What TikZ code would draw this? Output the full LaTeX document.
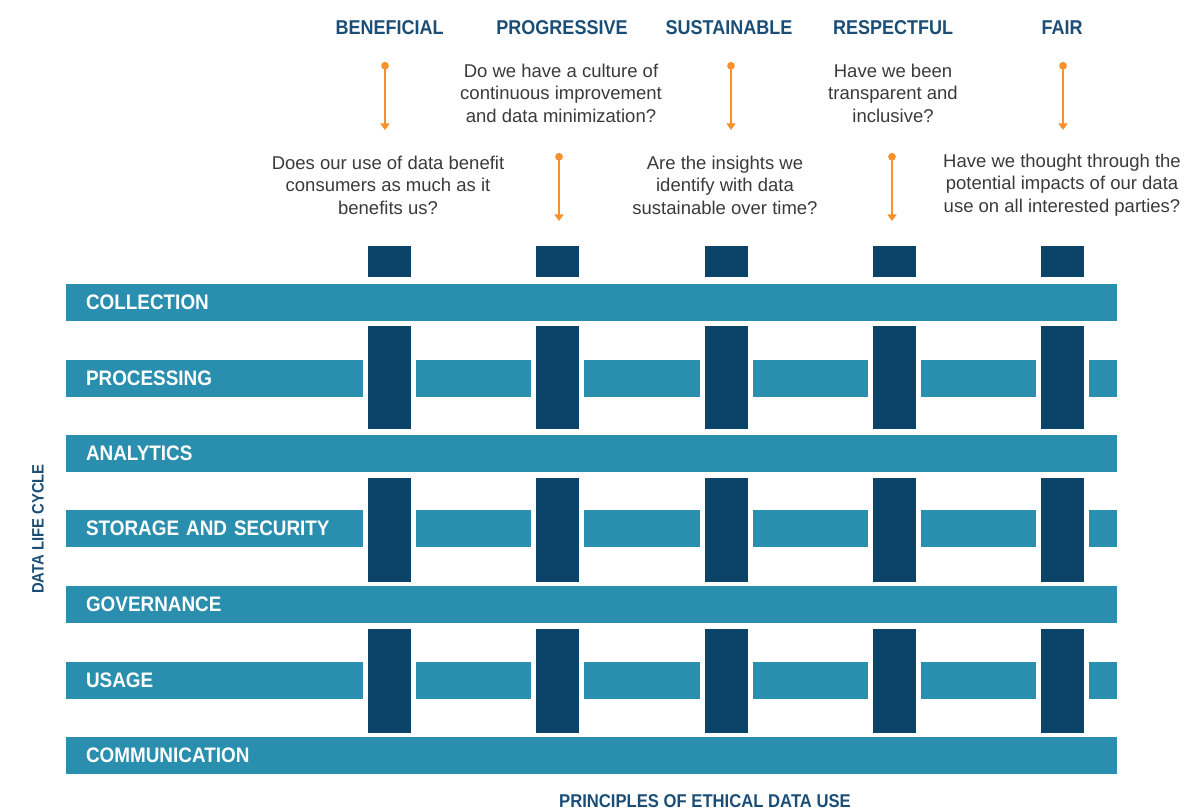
\documentclass[tikz,border=0pt]{standalone}
\usepackage{fontspec}
\setmainfont{Liberation Sans}
\newfontfamily\condfont[FakeStretch=0.9]{Liberation Sans}
\usetikzlibrary{arrows.meta}

\definecolor{azulclaro}{HTML}{2A8EAE}
\definecolor{azuloscuro}{HTML}{0B4468}
\definecolor{azultitulo}{HTML}{1B4E76}
\definecolor{gristexto}{HTML}{3A3A3A}
\definecolor{naranja}{HTML}{F6912E}

\begin{document}
\begin{tikzpicture}[x=1pt, y=-1pt,
    fila/.style={fill=azulclaro, text=white, minimum height=37pt, inner ysep=0pt, inner xsep=20pt, text width=1011pt, align=left, font=\condfont\bfseries\fontsize{21}{21}\selectfont},
    barra/.style={fill=azuloscuro, draw=white, line width=5pt, minimum width=48pt, inner sep=0pt},
    titulo/.style={text=azultitulo, font=\condfont\bfseries\fontsize{20}{20}\selectfont},
    pregunta/.style={text=gristexto, align=center, font=\fontsize{18.5}{22.5}\selectfont},
    flecha/.style={draw=naranja, line width=2.6pt, {Circle[length=7.5pt]}-{Triangle[length=6.5pt,width=9pt]}}]
            \useasboundingbox (0,0) rectangle (1190,810);

            % Filas partidas
            \node[fila] (proc) at (591.5,378) {PROCESSING};
            \node[fila] (almac) at (591.5,528.5) {STORAGE AND SECURITY};
            \node[fila] (uso) at (591.5,680) {USAGE};

            % Barras
            \node[barra, minimum height=36pt] (c1) at (389.5,261.5) {};
            \node[barra, minimum height=36pt] (c2) at (557.75,261.5) {};
            \node[barra, minimum height=36pt] (c3) at (726,261.5) {};
            \node[barra, minimum height=36pt] (c4) at (894.25,261.5) {};
            \node[barra, minimum height=36pt] (c5) at (1062.5,261.5) {};
            \node[barra, minimum height=108pt] (b11) at (389.5,377.5) {};
            \node[barra, minimum height=108pt] (b12) at (557.75,377.5) {};
            \node[barra, minimum height=108pt] (b13) at (726,377.5) {};
            \node[barra, minimum height=108pt] (b14) at (894.25,377.5) {};
            \node[barra, minimum height=108pt] (b15) at (1062.5,377.5) {};
            \node[barra, minimum height=109pt] (b21) at (389.5,530) {};
            \node[barra, minimum height=109pt] (b22) at (557.75,530) {};
            \node[barra, minimum height=109pt] (b23) at (726,530) {};
            \node[barra, minimum height=109pt] (b24) at (894.25,530) {};
            \node[barra, minimum height=109pt] (b25) at (1062.5,530) {};
            \node[barra, minimum height=109pt] (b31) at (389.5,681) {};
            \node[barra, minimum height=109pt] (b32) at (557.75,681) {};
            \node[barra, minimum height=109pt] (b33) at (726,681) {};
            \node[barra, minimum height=109pt] (b34) at (894.25,681) {};
            \node[barra, minimum height=109pt] (b35) at (1062.5,681) {};

            % Filas enteras
            \node[fila] (recol) at (591.5,302.5) {COLLECTION};
            \node[fila] (anal) at (591.5,453.5) {ANALYTICS};
            \node[fila] (gob) at (591.5,604.5) {GOVERNANCE};
            \node[fila] (comu) at (591.5,755.5) {COMMUNICATION};

            % Principios
            \node[titulo] (benef) at (389.5,28) {BENEFICIAL};
            \node[titulo] (progr) at (562,28) {PROGRESSIVE};
            \node[titulo] (soste) at (729,28) {SUSTAINABLE};
            \node[titulo] (respe) at (893,28) {RESPECTFUL};
            \node[titulo] (justo) at (1062,28) {FAIR};

            % Preguntas
            \node[pregunta] (p1) at (388,185) {Does our use of data benefit\\consumers as much as it\\benefits us?};
            \node[pregunta] (p2) at (561,93) {Do we have a culture of\\continuous improvement\\and data minimization?};
            \node[pregunta] (p3) at (725,185) {Are the insights we\\identify with data\\sustainable over time?};
            \node[pregunta] (p4) at (893,93) {Have we been\\transparent and\\inclusive?};
            \node[pregunta] (p5) at (1062,185) {Have we thought through the\\potential impacts of our data\\use on all interested parties?};

            % Flechas
            \coordinate (f1a) at (385,62);   \coordinate (f1b) at (385,130);
            \coordinate (f2a) at (559,153);  \coordinate (f2b) at (559,221);
            \coordinate (f3a) at (731,62);   \coordinate (f3b) at (731,130);
            \coordinate (f4a) at (892,153);  \coordinate (f4b) at (892,221);
            \coordinate (f5a) at (1063,62);  \coordinate (f5b) at (1063,130);
            \draw[flecha] (f1a) -- (f1b);
            \draw[flecha] (f2a) -- (f2b);
            \draw[flecha] (f3a) -- (f3b);
            \draw[flecha] (f4a) -- (f4b);
            \draw[flecha] (f5a) -- (f5b);

            % Ejes
            \node[rotate=90, text=azultitulo, font=\condfont\bfseries\fontsize{16.5}{16.5}\selectfont] (ciclo) at (38,529) {DATA LIFE CYCLE};
            \node[anchor=base, inner sep=0pt, text=azultitulo, font=\condfont\bfseries\fontsize{18.5}{18.5}\selectfont] (princ) at (705,807) {PRINCIPLES OF ETHICAL DATA USE};
          \end{tikzpicture}
\end{document}
